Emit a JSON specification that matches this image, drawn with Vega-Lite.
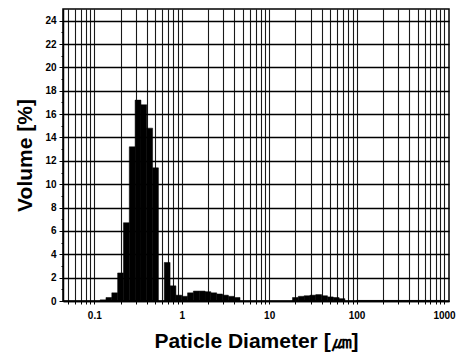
{
  "$schema": "https://vega.github.io/schema/vega-lite/v6.json",
  "width": 386,
  "height": 292,
  "autosize": "none",
  "padding": {"left": 63, "top": 9, "right": 18, "bottom": 53},
  "background": "white",
  "config": {
    "view": {"stroke": "black", "strokeWidth": 1.5},
    "font": "Liberation Sans"
  },
  "data": {
    "values": [
      {"lo": 0.1166, "hi": 0.1359, "v": 0.1},
      {"lo": 0.1359, "hi": 0.1585, "v": 0.3},
      {"lo": 0.1585, "hi": 0.1848, "v": 0.7},
      {"lo": 0.1848, "hi": 0.2154, "v": 2.4},
      {"lo": 0.2154, "hi": 0.2512, "v": 6.7},
      {"lo": 0.2512, "hi": 0.2929, "v": 13.2},
      {"lo": 0.2929, "hi": 0.3415, "v": 17.2},
      {"lo": 0.3415, "hi": 0.3981, "v": 16.8},
      {"lo": 0.3981, "hi": 0.4642, "v": 14.8},
      {"lo": 0.4642, "hi": 0.5412, "v": 11.4},
      {"lo": 0.631, "hi": 0.7356, "v": 3.3},
      {"lo": 0.7356, "hi": 0.8577, "v": 1.3},
      {"lo": 0.8577, "hi": 1.0, "v": 0.5},
      {"lo": 1.0, "hi": 1.166, "v": 0.4},
      {"lo": 1.166, "hi": 1.359, "v": 0.7},
      {"lo": 1.359, "hi": 1.585, "v": 0.85},
      {"lo": 1.585, "hi": 1.848, "v": 0.85},
      {"lo": 1.848, "hi": 2.154, "v": 0.8},
      {"lo": 2.154, "hi": 2.512, "v": 0.7},
      {"lo": 2.512, "hi": 2.929, "v": 0.6},
      {"lo": 2.929, "hi": 3.415, "v": 0.5},
      {"lo": 3.415, "hi": 3.981, "v": 0.4},
      {"lo": 3.981, "hi": 4.642, "v": 0.3},
      {"lo": 18.48, "hi": 21.54, "v": 0.3},
      {"lo": 21.54, "hi": 25.12, "v": 0.4},
      {"lo": 25.12, "hi": 29.29, "v": 0.45},
      {"lo": 29.29, "hi": 34.15, "v": 0.5},
      {"lo": 34.15, "hi": 39.81, "v": 0.55},
      {"lo": 39.81, "hi": 46.42, "v": 0.45},
      {"lo": 46.42, "hi": 54.12, "v": 0.35},
      {"lo": 54.12, "hi": 63.1, "v": 0.3},
      {"lo": 63.1, "hi": 73.56, "v": 0.2},
      {"lo": 100, "hi": 1000, "v": 0.05}
    ]
  },
  "mark": {"type": "bar", "color": "black", "stroke": "black", "strokeWidth": 0.5, "orient": "vertical"},
  "encoding": {
    "x": {
      "field": "lo",
      "type": "quantitative",
      "scale": {"type": "log", "domain": [0.05, 1000], "nice": false},
      "axis": {
        "title": "Paticle Diameter [㎛]",
        "titleFont": "Liberation Sans",
        "titleFontSize": 21,
        "titleFontWeight": "bold",
        "titleColor": "black",
        "titlePadding": 10,
        "values": [0.05, 0.06, 0.07, 0.08, 0.09, 0.1, 0.2, 0.3, 0.4, 0.5, 0.6, 0.7, 0.8, 0.9, 1, 2, 3, 4, 5, 6, 7, 8, 9, 10, 20, 30, 40, 50, 60, 70, 80, 90, 100, 200, 300, 400, 500, 600, 700, 800, 900, 1000],
        "labelExpr": "indexof([0.1,1,10,100,1000], datum.value) >= 0 ? '' + datum.value : ''",
        "labelFontSize": 10,
        "labelFontWeight": "bold",
        "labelColor": "black",
        "labelPadding": 6,
        "labelFlush": false,
        "grid": true,
        "gridColor": "black",
        "gridWidth": 1.1,
        "gridOpacity": 0.9,
        "domainColor": "black",
        "domainWidth": 1.5,
        "tickColor": "black",
        "tickSize": 3
      }
    },
    "x2": {"field": "hi"},
    "y": {
      "field": "v",
      "type": "quantitative",
      "scale": {"domain": [0, 25], "nice": false},
      "axis": {
        "title": "Volume [%]",
        "titleFont": "Liberation Sans",
        "titleFontSize": 21,
        "titleFontWeight": "bold",
        "titleColor": "black",
        "titlePadding": 9,
        "values": [0, 1, 2, 3, 4, 5, 6, 7, 8, 9, 10, 11, 12, 13, 14, 15, 16, 17, 18, 19, 20, 21, 22, 23, 24],
        "labelExpr": "datum.value % 2 == 0 ? '' + datum.value : ''",
        "labelFontSize": 10,
        "labelFontWeight": "bold",
        "labelColor": "black",
        "labelPadding": 3,
        "grid": true,
        "gridColor": "black",
        "gridWidth": 1.3,
        "gridOpacity": {"condition": {"test": "datum.value % 2 == 1", "value": 0}, "value": 1},
        "domainColor": "black",
        "domainWidth": 1.5,
        "tickColor": "black",
        "tickSize": {"condition": {"test": "datum.value % 2 == 1", "value": 2}, "value": 4}
      }
    },
    "y2": {"datum": 0}
  }
}
